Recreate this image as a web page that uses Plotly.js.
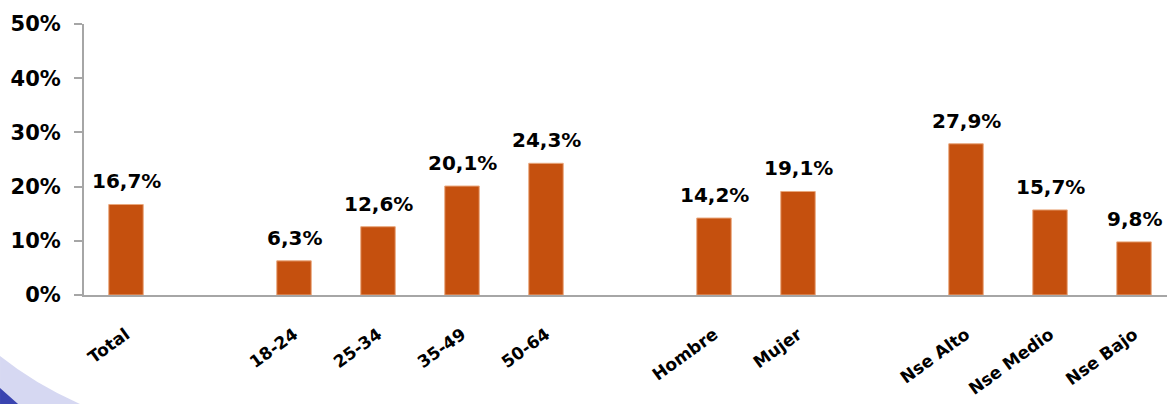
<!DOCTYPE html>
<html>
<head>
<meta charset="utf-8">
<script src="https://cdn.plot.ly/plotly-3.0.1.min.js"></script>
<style>
html,body{margin:0;padding:0;background:#fff;overflow:hidden;width:1167px;height:404px;}
#chart{width:1180px;height:404px;}
</style>
</head>
<body>
<div id="chart"></div>
<script>
// Data
const categories = ["Total", " ", "18-24", "25-34", "35-49", "50-64", "  ", "Hombre", "Mujer", "   ", "Nse Alto", "Nse Medio", "Nse Bajo"];
const values = [16.7, null, 6.3, 12.6, 20.1, 24.3, null, 14.2, 19.1, null, 27.9, 15.7, 9.8];
const yTicks = [0, 10, 20, 30, 40, 50];
const yTickLabels = ["0%", "10%", "20%", "30%", "40%", "50%"];
const groupBoundaries = [-0.5, 1.5, 2.5, 3.5, 4.5, 5.5, 6.5, 7.5, 8.5, 9.5, 10.5, 11.5, 12.5];

const FONT = "DejaVu Sans, Verdana, sans-serif";

const trace = {
  type: "bar",
  x: categories,
  y: values,
  width: 0.41,
  marker: {color: "#C5500E", line: {color: "#E9A77C", width: 1}},
  cliponaxis: false,
  hoverinfo: "skip"
};

// value labels above bars, placed through the axes' own scales
const fmt = v => v.toFixed(1).replace(".", ",") + "%";
const labelAnnotations = categories
  .map((c, i) => ({c, v: values[i]}))
  .filter(d => d.v !== null)
  .map(d => ({
    x: d.c, y: d.v, xref: "x", yref: "y",
    text: fmt(d.v), showarrow: false,
    yanchor: "bottom", yshift: 9,
    font: {family: FONT, size: 20, color: "#000", weight: "bold"}
  }));

// pixel -> paper helpers for the decorative corner swoosh
const PL = 84, PW = 1092, PB = 295, PH = 271;
const px = x => ((x - PL) / PW).toFixed(4);
const py = y => ((PB - y) / PH).toFixed(4);

const layout = {
  width: 1180, height: 404,
  autosize: false,
  margin: {l: 84, r: 4, t: 24, b: 109, pad: 0},
  paper_bgcolor: "#fff",
  plot_bgcolor: "rgba(0,0,0,0)",
  showlegend: false,
  font: {family: FONT, color: "#000"},
  xaxis: {
    type: "category",
    categoryorder: "array",
    categoryarray: categories,
    range: [-0.5, 12.5],
    showline: true, linecolor: "#A6A6A6", linewidth: 2,
    ticks: "", showgrid: false, zeroline: false,
    tickangle: -36,
    ticklabelstandoff: 21,
    tickfont: {family: FONT, size: 17, color: "#000", weight: "bold"}
  },
  xaxis2: {
    overlaying: "x", anchor: "y", side: "bottom",
    range: [-0.5, 12.5],
    tickmode: "array", tickvals: groupBoundaries,
    ticks: "outside", ticklen: 9, tickwidth: 2, tickcolor: "#A6A6A6",
    showticklabels: false, showgrid: false, zeroline: false, showline: false
  },
  yaxis: {
    range: [0, 50],
    tickmode: "array", tickvals: yTicks, ticktext: yTickLabels,
    showline: true, linecolor: "#A6A6A6", linewidth: 2,
    ticks: "outside", ticklen: 8, tickwidth: 2, tickcolor: "#A6A6A6",
    showgrid: false, zeroline: false,
    ticklabelstandoff: 9,
    tickfont: {family: FONT, size: 21, color: "#000", weight: "bold"}
  },
  annotations: labelAnnotations,
  shapes: [
    {type: "path", xref: "paper", yref: "paper", layer: "below",
     path: `M ${px(0)} ${py(356)} Q ${px(35)} ${py(384)} ${px(80)} ${py(404)} L ${px(0)} ${py(404)} Z`,
     fillcolor: "rgba(200,203,238,0.75)", line: {width: 0}},
    {type: "path", xref: "paper", yref: "paper", layer: "below",
     path: `M ${px(0)} ${py(388)} Q ${px(9)} ${py(396)} ${px(18)} ${py(404)} L ${px(0)} ${py(404)} Z`,
     fillcolor: "#3A44B0", line: {width: 0}}
  ]
};

Plotly.newPlot("chart", [trace], layout, {displayModeBar: false, staticPlot: true});
</script>
</body>
</html>
